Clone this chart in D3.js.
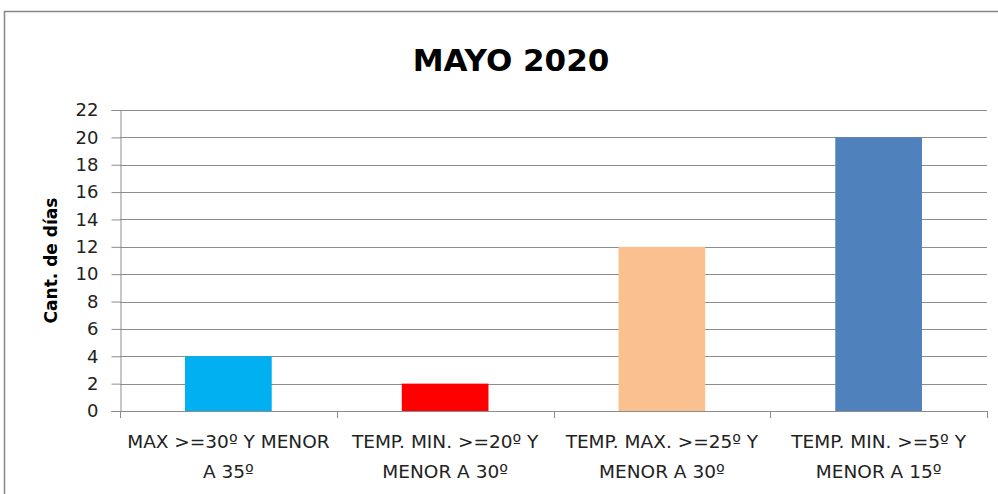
<!DOCTYPE html>
<html>
<head>
<meta charset="utf-8">
<script src="https://cdn.jsdelivr.net/npm/d3@7"></script>
<style>
  body { margin: 0; background: #fff; }
  svg { display: block; }
</style>
</head>
<body>
<svg id="svg"></svg>
<script>
var categorias = [
    ["MAX >=30º Y MENOR", "A 35º"],
    ["TEMP. MIN. >=20º Y", "MENOR A 30º"],
    ["TEMP. MAX. >=25º Y", "MENOR A 30º"],
    ["TEMP. MIN. >=5º Y", "MENOR A 15º"]
];
var valores = [4, 2, 12, 20];
var colori = ["#00B0F0", "#FF0000", "#FAC090", "#4F81BD"];
var yTicks = [0, 2, 4, 6, 8, 10, 12, 14, 16, 18, 20, 22];
var titolo = "MAYO 2020";
var yLabel = "Cant. de días";

var larghezza = 998;
var altezza = 494;
var plotLeft = 120, plotRight = 987, plotTop = 110, plotBottom = 411;
var grigio = "#8c8c8c";

function draw() {
    var svg = d3.select("#svg");
    svg.attr("width", larghezza).attr("height", altezza);

    // cornice
    svg.append("rect")
        .attr("x", 4.5).attr("y", 11.5)
        .attr("width", 1100).attr("height", 600)
        .style("fill", "none")
        .style("stroke", "#888")
        .style("stroke-width", "1.5px");

    var y = d3.scaleLinear().domain([0, 22]).range([plotBottom, plotTop]);
    var x = d3.scaleBand()
        .domain(d3.range(valores.length))
        .range([plotLeft, plotRight])
        .paddingInner(0.6)
        .paddingOuter(0.3);

    drawGrid(svg, y);
    drawBars(svg, x, y);
    drawAxes(svg, x, y);

    svg.append("text")
        .attr("x", 511).attr("y", 71)
        .attr("text-anchor", "middle")
        .style("font-family", "DejaVu Sans")
        .style("font-weight", "bold")
        .style("font-size", "31px")
        .style("fill", "#000")
        .text(titolo);

    svg.append("text")
        .attr("transform", "translate(57," + ((plotTop + plotBottom) / 2) + ") rotate(-90)")
        .attr("text-anchor", "middle")
        .style("font-family", "DejaVu Sans")
        .style("font-weight", "bold")
        .style("font-size", "17px")
        .style("fill", "#000")
        .text(yLabel);
}

function drawGrid(svg, y) {
    yTicks.forEach(function (t) {
        if (t === 0) return;
        svg.append("line")
            .attr("x1", plotLeft).attr("x2", plotRight)
            .attr("y1", Math.round(y(t)) + 0.5).attr("y2", Math.round(y(t)) + 0.5)
            .style("stroke", grigio)
            .style("stroke-width", "1px");
    });
}

function drawBars(svg, x, y) {
    valores.forEach(function (v, i) {
        svg.append("rect")
            .attr("x", x(i))
            .attr("y", y(v))
            .attr("width", x.bandwidth())
            .attr("height", y(0) - y(v))
            .style("fill", colori[i]);
    });
}

function drawAxes(svg, x, y) {
    var yAxis = d3.axisLeft(y).tickValues(yTicks).tickSize(9).tickPadding(13);
    var gy = svg.append("g")
        .attr("transform", "translate(" + (plotLeft + 0.5) + ",0)")
        .call(yAxis);
    gy.select(".domain").style("stroke", grigio);
    gy.selectAll(".tick line").style("stroke", grigio);
    gy.selectAll(".tick text")
        .style("font-family", "DejaVu Sans")
        .style("font-size", "18px")
        .style("fill", "#222");

    // asse x
    svg.append("line")
        .attr("x1", plotLeft).attr("x2", plotRight)
        .attr("y1", plotBottom + 0.5).attr("y2", plotBottom + 0.5)
        .style("stroke", grigio);

    var step = x.step();
    d3.range(valores.length + 1).forEach(function (i) {
        var px = Math.round(plotLeft + i * step) + 0.5;
        svg.append("line")
            .attr("x1", px).attr("x2", px)
            .attr("y1", plotBottom).attr("y2", plotBottom + 7)
            .style("stroke", grigio);
    });

    categorias.forEach(function (righe, i) {
        var cx = x(i) + x.bandwidth() / 2;
        righe.forEach(function (r, k) {
            svg.append("text")
                .attr("x", cx)
                .attr("y", 448 + k * 30)
                .attr("text-anchor", "middle")
                .style("font-family", "DejaVu Sans")
                .style("font-size", "18.5px")
                .style("fill", "#222")
                .text(r);
        });
    });
}

draw();
</script>
</body>
</html>
